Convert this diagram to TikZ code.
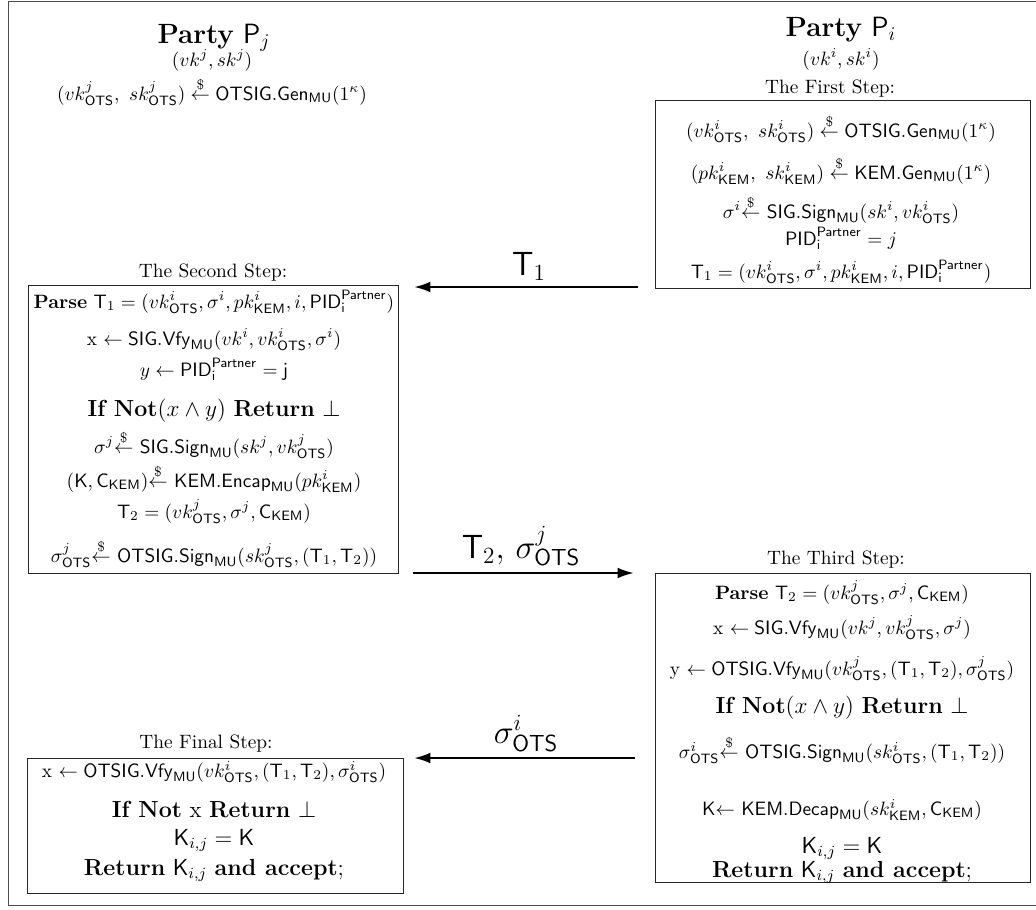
\documentclass[tikz,border=0pt]{standalone}
\usetikzlibrary{arrows.meta}
\newcommand{\sOTS}{\mathsf{OTS}}
\newcommand{\sKEM}{\mathsf{KEM}}
\newcommand{\sMU}{\mathsf{MU}}
\newcommand{\PIDp}{\mathsf{PID}_{\mathsf{i}}^{\mathsf{Partner}}}
\newcommand{\rnd}{\stackrel{\$}{\leftarrow}}
\begin{document}
\begin{tikzpicture}[x=0.5168pt, y=-0.5168pt,
  txt/.style={anchor=base, inner sep=0pt, outer sep=0pt},
  stepbox/.style={draw=black!85, line width=0.45pt},
  msg/.style={line width=1.2pt, -{Latex[length=8.5pt, width=5.6pt]}},
  msglabel/.style={anchor=base, inner sep=0pt, font=\LARGE}]
\useasboundingbox (0,0) rectangle (1036,909);
% outer frame (its right side lies past the page edge)
\draw[black!70, line width=0.6pt] (1036,1.5) -- (8.5,1.5) -- (8.5,905.5) -- (1036,905.5);

% ---------- party P_j ----------
\node[txt] (pj) at (214,43) {\Large\textbf{Party} $\mathsf{P}_j$};
\node[txt] (pjkeys) at (212,66) {$(vk^j, sk^j)$};
\node[txt] (pjgen) at (212,100) {$(vk^j_{\sOTS},\ sk^j_{\sOTS}) \rnd \mathsf{OTSIG.Gen}_{\sMU}(1^\kappa)$};

% ---------- party P_i ----------
\node[txt] (pi) at (841,36) {\Large\textbf{Party} $\mathsf{P}_i$};
\node[txt] (pikeys) at (841,65) {$(vk^i, sk^i)$};

% ---------- first step ----------
\node[txt] (s1title) at (830,93) {The First Step:};
\node[stepbox, inner sep=0pt, minimum width=375*0.5168pt, minimum height=188*0.5168pt] (B1) at (842.5,194) {};
\node[txt] (s1a) at (841,137) {$(vk^i_{\sOTS},\ sk^i_{\sOTS}) \rnd \mathsf{OTSIG.Gen}_{\sMU}(1^\kappa)$};
\node[txt] (s1b) at (841,179) {$(pk^i_{\sKEM},\ sk^i_{\sKEM}) \rnd \mathsf{KEM.Gen}_{\sMU}(1^\kappa)$};
\node[txt] (s1c) at (841,218) {$\sigma^i$$\rnd$ $\mathsf{SIG.Sign}_{\sMU}(sk^i, vk^i_{\sOTS})$};
\node[txt] (s1d) at (841,245) {$\PIDp = j$};
\node[txt] (s1e) at (841,278) {$\mathsf{T}_1 = (vk^i_{\sOTS}, \sigma^i, pk^i_{\sKEM}, i, \PIDp)$};

% ---------- second step ----------
\node[txt] (s2title) at (213,277) {The Second Step:};
\node[stepbox, inner sep=0pt, minimum width=370*0.5168pt, minimum height=288*0.5168pt] (B2) at (213,429) {};
\node[txt] (s2a) at (214,308) {\textbf{Parse} $\mathsf{T}_1 = (vk^i_{\sOTS}, \sigma^i, pk^i_{\sKEM}, i, \PIDp)$};
\node[txt] (s2b) at (214,345) {x $\leftarrow \mathsf{SIG.Vfy}_{\sMU}(vk^i, vk^i_{\sOTS}, \sigma^i)$};
\node[txt] (s2c) at (214,376) {$y \leftarrow \PIDp = \mathsf{j}$};
\node[txt] (s2d) at (214,416) {\large\textbf{If Not}$(x \wedge y)$ \textbf{Return} $\bot$};
\node[txt] (s2e) at (214,453) {$\sigma^j$$\rnd$ $\mathsf{SIG.Sign}_{\sMU}(sk^j, vk^j_{\sOTS})$};
\node[txt] (s2f) at (214,487) {$(\mathsf{K}, \mathsf{C}_{\sKEM})$$\rnd$ $\mathsf{KEM.Encap}_{\sMU}(pk^i_{\sKEM})$};
\node[txt] (s2g) at (214,518) {$\mathsf{T}_2 = (vk^j_{\sOTS}, \sigma^j, \mathsf{C}_{\sKEM})$};
\node[txt] (s2h) at (214,562) {$\sigma^j_{\sOTS}$$\rnd$ $\mathsf{OTSIG.Sign}_{\sMU}(sk^j_{\sOTS}, (\mathsf{T}_1, \mathsf{T}_2))$};

% ---------- third step ----------
\node[txt] (s3title) at (836,564) {The Third Step:};
\node[stepbox, inner sep=0pt, minimum width=375*0.5168pt, minimum height=309*0.5168pt] (B3) at (842.5,727.5) {};
\node[txt] (s3a) at (842,599) {\textbf{Parse} $\mathsf{T}_2 = (vk^j_{\sOTS}, \sigma^j, \mathsf{C}_{\sKEM})$};
\node[txt] (s3b) at (842,634) {x $\leftarrow \mathsf{SIG.Vfy}_{\sMU}(vk^j, vk^j_{\sOTS}, \sigma^j)$};
\node[txt] (s3c) at (842,675) {y $\leftarrow \mathsf{OTSIG.Vfy}_{\sMU}(vk^j_{\sOTS}, (\mathsf{T}_1, \mathsf{T}_2), \sigma^j_{\sOTS})$};
\node[txt] (s3d) at (842,713) {\large\textbf{If Not}$(x \wedge y)$ \textbf{Return} $\bot$};
\node[txt] (s3e) at (842,758) {$\sigma^i_{\sOTS}$$\rnd$ $\mathsf{OTSIG.Sign}_{\sMU}(sk^i_{\sOTS}, (\mathsf{T}_1, \mathsf{T}_2))$};
\node[txt] (s3f) at (842,815) {$\mathsf{K}$$\leftarrow$ $\mathsf{KEM.Decap}_{\sMU}(sk^i_{\sKEM}, \mathsf{C}_{\sKEM})$};
\node[txt] (s3g) at (842,853) {\large$\mathsf{K}_{i,j} = \mathsf{K}$};
\node[txt] (s3h) at (842,877) {\large\textbf{Return} $\mathsf{K}_{i,j}$ \textbf{and accept};};

% ---------- final step ----------
\node[txt] (s4title) at (206,748) {The Final Step:};
\node[stepbox, inner sep=0pt, minimum width=376*0.5168pt, minimum height=135*0.5168pt] (B4) at (215,825.5) {};
\node[txt] (s4a) at (214,777) {x $\leftarrow \mathsf{OTSIG.Vfy}_{\sMU}(vk^i_{\sOTS}, (\mathsf{T}_1, \mathsf{T}_2), \sigma^i_{\sOTS})$};
\node[txt] (s4b) at (214,817) {\large\textbf{If Not} x \textbf{Return} $\bot$};
\node[txt] (s4c) at (214,845) {\large$\mathsf{K}_{i,j} = \mathsf{K}$};
\node[txt] (s4d) at (214,875) {\large\textbf{Return} $\mathsf{K}_{i,j}$ \textbf{and accept};};

% ---------- messages ----------
\coordinate (m1from) at (638,287);
\coordinate (m1to) at (414,287);
\coordinate (m2from) at (413,573);
\coordinate (m2to) at (634,573);
\coordinate (m3from) at (635,758);
\coordinate (m3to) at (414,758);
\draw[msg] (m1from) -- (m1to);
\draw[msg] (m2from) -- (m2to);
\draw[msg] (m3from) -- (m3to);
\node[msglabel] (m1lab) at (529,275) {$\mathsf{T}_1$};
\node[msglabel] (m2lab) at (521,558) {$\mathsf{T}_2,\, \sigma^j_{\sOTS}$};
\node[msglabel] (m3lab) at (526,743) {$\sigma^i_{\sOTS}$};
\end{tikzpicture}
\end{document}
